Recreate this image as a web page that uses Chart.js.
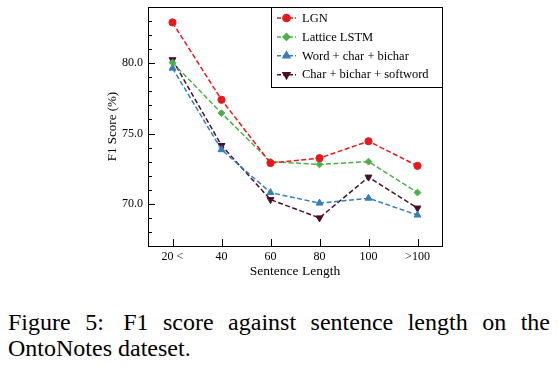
<!DOCTYPE html>
<html>
<head>
<meta charset="utf-8">
<script src="https://cdn.jsdelivr.net/npm/chart.js@4/dist/chart.umd.min.js"></script>
<style>
  html, body { margin: 0; padding: 0; background: #fff; }
  #wrap { position: absolute; left: 0; top: 0; width: 558px; height: 290px; }
  #caption {
    position: absolute; left: 8px; top: 309px; width: 542px;
    font-family: "Liberation Serif", "DejaVu Serif", serif;
    font-size: 24px; line-height: 26px; text-align: justify; color: #000;
  }
</style>
</head>
<body>
<div id="wrap"><canvas id="g_len" width="558" height="290"></canvas></div>
<div id="caption">Figure 5:&thinsp; F1 score against sentence length on the OntoNotes dateset.</div>
<script>
// data
const lengths = ['20 <', '40', '60', '80', '100', '>100'];
const lgn = [82.9, 77.4, 72.9, 73.25, 74.45, 72.7];
const latticeLstm = [80.05, 76.45, 73.0, 72.8, 73.0, 70.8];
const wordCharBichar = [79.65, 73.85, 70.8, 70.05, 70.4, 69.2];
const charBicharSoftword = [80.25, 74.15, 70.3, 69.0, 71.9, 69.7];
const yTicks = [70, 75, 80];

const serif = '"Liberation Serif", "DejaVu Serif", serif';

const series = [
  { label: 'LGN', data: lgn, color: '#e41a1c', style: 'circle', r: 3.6, rot: 0 },
  { label: 'Lattice LSTM', data: latticeLstm, color: '#4daf4a', style: 'rectRot', r: 3.4, rot: 0 },
  { label: 'Word + char + bichar', data: wordCharBichar, color: '#377eb8', style: 'triangle', r: 4, rot: 0 },
  { label: 'Char + bichar + softword', data: charBicharSoftword, color: '#4a0f2c', style: 'triangle', r: 4, rot: 180 }
];

// box, inward ticks and framed legend, drawn the matplotlib way
const frame = {
  id: 'frame',
  afterDraw(chart) {
    const c = chart.ctx, a = chart.chartArea;
    const x = chart.scales.x, y = chart.scales.y;
    c.save();
    c.strokeStyle = '#000';
    c.lineWidth = 1;
    c.strokeRect(Math.round(a.left) + 0.5, Math.round(a.top) + 0.5,
      Math.round(a.right - a.left), Math.round(a.bottom - a.top));
    c.beginPath();
    for (let v = Math.ceil(y.min); v <= y.max; v++) {
      const py = Math.round(y.getPixelForValue(v)) + 0.5;
      const len = v % 5 === 0 ? 7 : 4;
      c.moveTo(a.left, py); c.lineTo(a.left + len, py);
    }
    lengths.forEach((l, i) => {
      const px = Math.round(x.getPixelForValue(i)) + 0.5;
      c.moveTo(px, a.bottom); c.lineTo(px, a.bottom - 7);
    });
    c.stroke();

    // legend
    const lx = 271, ly = Math.round(a.top), lw = Math.round(a.right) - lx, lh = 80;
    c.fillStyle = '#fff';
    c.fillRect(lx, ly, lw, lh);
    c.strokeRect(lx + 0.5, ly + 0.5, lw, lh);
    c.font = '12.5px ' + serif;
    c.textBaseline = 'middle';
    series.forEach((s, i) => {
      const cy = ly + 11 + i * 18.9;
      c.strokeStyle = s.color;
      c.lineWidth = 1.5;
      c.setLineDash([4, 2]);
      c.beginPath();
      c.moveTo(277, cy); c.lineTo(296, cy);
      c.stroke();
      c.setLineDash([]);
      c.fillStyle = s.color;
      Chart.helpers.drawPoint(c, { pointStyle: s.style, radius: s.r, rotation: s.rot, borderWidth: 1 }, 286.5, cy);
      c.fillStyle = '#000';
      c.fillText(s.label, 302, cy + 0.5);
    });
    c.restore();
  }
};

const ctx = document.getElementById('g_len').getContext('2d');
const g_len = new Chart(ctx, {
  type: 'line',
  data: {
    labels: lengths,
    datasets: series.map(s => ({
      label: s.label,
      data: s.data,
      borderColor: s.color,
      backgroundColor: s.color,
      borderWidth: 1.5,
      borderDash: [5, 2.5],
      pointStyle: s.style,
      pointRadius: s.r,
      pointRotation: s.rot,
      pointBorderWidth: 1,
      tension: 0,
      fill: false
    }))
  },
  options: {
    responsive: false,
    animation: false,
    layout: { autoPadding: false, padding: { left: 105, right: 116, top: 7, bottom: 10 } },
    plugins: { legend: { display: false }, tooltip: { enabled: false } },
    scales: {
      x: {
        offset: true,
        grid: { display: false, drawTicks: false },
        border: { display: false },
        ticks: { color: '#000', font: { family: serif, size: 12 }, padding: 4 },
        title: { display: true, text: 'Sentence Length', color: '#000', font: { family: serif, size: 13.5 }, padding: 0 },
        afterFit(scale) {
          scale.height = 34;
          scale.paddingLeft = 0; scale.paddingRight = 0;
        }
      },
      y: {
        min: 67,
        max: 84,
        grid: { display: false, drawTicks: false },
        border: { display: false },
        afterBuildTicks(scale) { scale.ticks = yTicks.map(v => ({ value: v })); },
        ticks: {
          color: '#000', font: { family: serif, size: 12 }, padding: 5,
          callback: v => Number(v).toFixed(1)
        },
        title: { display: true, text: 'F1 Score (%)', color: '#000', font: { family: serif, size: 13 }, padding: 0 },
        afterFit(scale) {
          scale.width = 43;
          scale.paddingTop = 0; scale.paddingBottom = 0;
        }
      }
    }
  },
  plugins: [frame]
});
</script>
</body>
</html>
